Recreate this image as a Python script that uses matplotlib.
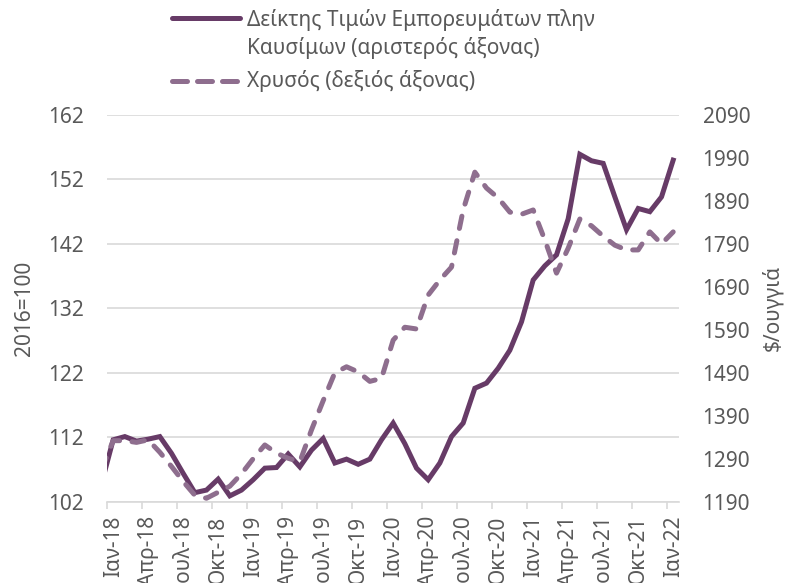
import matplotlib
matplotlib.use("Agg")
import matplotlib.pyplot as plt
from matplotlib.lines import Line2D
import numpy as np

plt.rcParams['font.family'] = ['Noto Sans', 'DejaVu Sans']

# monthly, Dec-17 .. Jan-22 (Dec-17 only feeds the clipped first segment)
commodity_idx = [104.8,
                 111.6, 112.1, 111.4, 111.7, 112.1, 109.5, 106.4, 103.4, 103.8, 105.5, 102.9, 103.8,
                 105.4, 107.2, 107.3, 109.4, 107.4, 110.0, 111.8, 108.0, 108.6, 107.8, 108.6, 111.6,
                 114.2, 111.0, 107.2, 105.4, 108.0, 112.1, 114.2, 119.6, 120.4, 122.7, 125.5, 129.9,
                 136.4, 138.6, 140.3, 145.9, 155.9, 154.9, 154.5, 149.3, 144.2, 147.5, 147.0, 149.3,
                 155.0]
gold = [1265,
        1332, 1332, 1328, 1334, 1305, 1272, 1237, 1205, 1198, 1212, 1226, 1255,
        1290, 1322, 1303, 1291, 1283, 1357, 1425, 1490, 1504, 1492, 1470, 1477,
        1566, 1596, 1592, 1671, 1706, 1736, 1869, 1957, 1920, 1897, 1864, 1859,
        1869, 1799, 1722, 1780, 1848, 1832, 1808, 1787, 1776, 1776, 1818, 1790,
        1818]
month_labels = ['Ιαν-18', 'Απρ-18', 'Ιουλ-18', 'Οκτ-18', 'Ιαν-19', 'Απρ-19', 'Ιουλ-19', 'Οκτ-19',
                'Ιαν-20', 'Απρ-20', 'Ιουλ-20', 'Οκτ-20', 'Ιαν-21', 'Απρ-21', 'Ιουλ-21', 'Οκτ-21',
                'Ιαν-22']
left_ticks = [102, 112, 122, 132, 142, 152, 162]
right_ticks = [1190, 1290, 1390, 1490, 1590, 1690, 1790, 1890, 1990, 2090]

solid_c = '#673B67'
dash_c = '#8E6E8E'
text_c = '#595959'
grid_c = '#D9D9D9'
fs = 15

x = np.arange(len(commodity_idx)) - 1

fig = plt.figure(figsize=(7.88, 5.83), dpi=100)
ax = fig.add_axes([0.1362, 0.1395, 0.7255, 0.6632])
ax2 = ax.twinx()

ax.plot(x, commodity_idx, color=solid_c, lw=3.6, solid_joinstyle='miter', zorder=3)
ln, = ax2.plot(x, gold, color=dash_c, lw=3.6, dash_capstyle='round', zorder=3)
ln.set_dashes((2.5, 2.5))

ax.set_xlim(-0.5, 48.5)
ax.set_ylim(102, 162)
ax2.set_ylim(1190, 2090)

ax.set_yticks(left_ticks)
ax2.set_yticks(right_ticks)
ax.yaxis.grid(True, color=grid_c, lw=1.2)
ax.set_axisbelow(True)

ax.set_xticks(np.arange(0, 49, 3))
ax.set_xticklabels(month_labels, rotation=90)
ax.set_xticks(np.arange(-0.5, 48, 3), minor=True)
ax.tick_params(axis='x', which='major', length=0, pad=10, labelsize=fs, labelcolor=text_c)
ax.tick_params(axis='x', which='minor', length=5, width=1.2, color=grid_c)
ax.tick_params(axis='y', length=0, pad=17, labelsize=fs, labelcolor=text_c)
ax2.tick_params(axis='y', length=0, pad=17, labelsize=fs, labelcolor=text_c)

for a in (ax, ax2):
    for s in ('left', 'right', 'top', 'bottom'):
        a.spines[s].set_visible(False)
ax.spines['bottom'].set_visible(True)
ax.spines['bottom'].set_color(grid_c)
ax.spines['bottom'].set_linewidth(1.2)

fig.text(25 / 788, 1 - 308 / 583, '2016=100', rotation=90, ha='center', va='center',
         fontsize=fs, color=text_c)
fig.text(772 / 788, 1 - 308 / 583, '\\$/ουγγιά', rotation=90, ha='center', va='center',
         fontsize=fs, color=text_c)

# legend drawn by hand, handle aligned with first text line
fig.add_artist(Line2D([172 / 788, 240 / 788], [1 - 17.5 / 583] * 2, color=solid_c, lw=3.6,
                      solid_capstyle='round'))
leg_dash = Line2D([172 / 788, 240 / 788], [1 - 81.5 / 583] * 2, color=dash_c, lw=3.6,
                  dash_capstyle='round')
leg_dash.set_dashes((3, 2))
fig.add_artist(leg_dash)
fig.text(247 / 788, 1 - 20 / 583, 'Δείκτης Τιμών Εμπορευμάτων πλην', va='center',
         fontsize=fs, color=text_c)
fig.text(247 / 788, 1 - 48 / 583, 'Καυσίμων (αριστερός άξονας)', va='center',
         fontsize=fs, color=text_c)
fig.text(247 / 788, 1 - 81 / 583, 'Χρυσός (δεξιός άξονας)', va='center',
         fontsize=fs, color=text_c)

fig.savefig('out.png', dpi=100)
